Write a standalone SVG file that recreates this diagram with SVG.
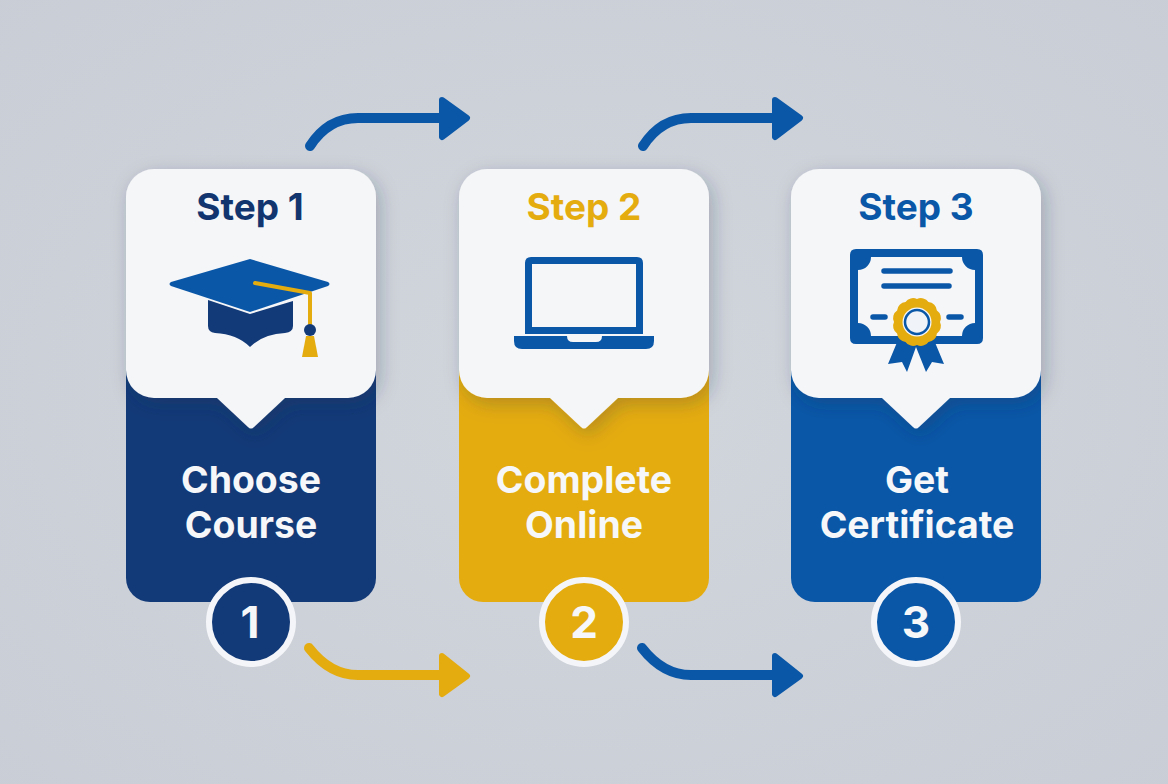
<svg xmlns="http://www.w3.org/2000/svg" xmlns:xlink="http://www.w3.org/1999/xlink" width="1168" height="784" viewBox="0 0 1168 784">
<style>
.st{font:700 37px Inter,"Liberation Sans",sans-serif;text-anchor:middle}
.lb{font:700 37.400px Inter,"Liberation Sans",sans-serif;text-anchor:middle;fill:#f6f7f9}
.nm{font:700 44px Inter,"Liberation Sans",sans-serif;text-anchor:middle;fill:#f6f7f9}
.wh{fill:#f5f6f8}
.navy{fill:#133a78}.gold{fill:#e5ac10}.blue{fill:#0a57a8}
.ring{stroke:#f3f5f8;stroke-width:6}
.shaft{fill:none;stroke-width:10;stroke-linecap:round;stroke-linejoin:round}
.hd{stroke-width:6;stroke-linejoin:round}
</style>
<defs>
<radialGradient id="bg" cx="50%" cy="50%" r="75%"><stop offset="0" stop-color="#d1d5dc"/><stop offset="1" stop-color="#c9cdd5"/></radialGradient>
<filter id="sh" x="-15%" y="-15%" width="130%" height="135%"><feDropShadow dx="4" dy="6" stdDeviation="9" flood-color="#1c2b44" flood-opacity=".25"/></filter>
<path id="card" d="M154,169H348A28,28 0 0 1 376,197V370A28,28 0 0 1 348,398H285L254,427Q251,430 248,427L217,398H154A28,28 0 0 1 126,370V197A28,28 0 0 1 154,169Z"/>
<path id="panel" d="M126,360H376V578A24,24 0 0 1 352,602H150A24,24 0 0 1 126,578Z"/>
</defs>
<rect width="1168" height="784" fill="url(#bg)"/>
<g id="node-1">
<use xlink:href="#panel" class="navy"/>
<use xlink:href="#card" class="wh" filter="url(#sh)"/>
<text class="st" x="250" y="220" fill="#12356f">Step 1</text>
<path d="M250,259L328,282Q331,284 328,286L250,312L171,286Q168,284 171,282Z" fill="#0a57a8"/>
<path d="M208,300L250,314L293,301V326Q293,332 285,333Q263,334 250,347Q237,334 215,333Q208,332 208,326Z" fill="#133a78"/>
<path d="M255,283L310,293V326" fill="none" stroke="#e5ac10" stroke-width="4" stroke-linecap="round" stroke-linejoin="round"/>
<circle cx="310" cy="330" r="6" fill="#133a78"/>
<path d="M306,336H314L318,357H302Z" fill="#e5ac10"/>
<text class="lb" x="251" y="493">Choose</text>
<text class="lb" x="251" y="538">Course</text>
<circle cx="251" cy="622" r="42" class="navy ring"/>
<text class="nm" x="250" y="638">1</text>
</g>
<g id="node-2">
<use xlink:href="#panel" x="333" class="gold"/>
<use xlink:href="#card" x="333" class="wh" filter="url(#sh)"/>
<text class="st" x="584" y="220" fill="#e5ac10">Step 2</text>
<path fill-rule="evenodd" d="M531,257H637Q643,257 643,263V334H525V263Q525,257 531,257ZM532,264V327H636V264Z" fill="#0a57a8"/>
<path d="M514,336H567Q567,342 573,342H596Q602,342 602,336H654V341Q654,349 646,349H522Q514,349 514,341Z" fill="#0a57a8"/>
<text class="lb" x="584" y="493">Complete</text>
<text class="lb" x="584" y="538">Online</text>
<circle cx="584" cy="622" r="42" class="gold ring"/>
<text class="nm" x="584" y="638">2</text>
</g>
<g id="node-3">
<use xlink:href="#panel" x="665" class="blue"/>
<use xlink:href="#card" x="665" class="wh" filter="url(#sh)"/>
<text class="st" x="916" y="220" fill="#0a57a8">Step 3</text>
<path fill-rule="evenodd" d="M856,249H977Q983,249 983,255V338Q983,344 977,344H856Q850,344 850,338V255Q850,249 856,249ZM871,257A13,13 0 0 1 858,270V323A13,13 0 0 1 871,336H962A13,13 0 0 1 975,323V270A13,13 0 0 1 962,257Z" fill="#0a57a8"/>
<g stroke="#0a57a8" stroke-width="5.500" stroke-linecap="round"><path d="M884,271H950M884,286H949M873,317H885M949,317H961"/></g>
<path d="M898,340L888,364L902,362L907,372L916,347L926,372L932,362L944,364L934,340Z" fill="#0a57a8"/>
<path d="M940,322A9,9 0 0 1 936.900,333.500A9,9 0 0 1 928.500,341.900A9,9 0 0 1 917,345A9,9 0 0 1 905.500,341.900A9,9 0 0 1 897.100,333.500A9,9 0 0 1 894,322A9,9 0 0 1 897.100,310.500A9,9 0 0 1 905.500,302.100A9,9 0 0 1 917,299A9,9 0 0 1 928.500,302.100A9,9 0 0 1 936.900,310.500A9,9 0 0 1 940,322Z" fill="#e5ac10"/>
<circle cx="917" cy="322" r="14.500" fill="#f5f6f8"/>
<circle cx="917" cy="322" r="12" fill="#f0f3f7" stroke="#0a57a8" stroke-width="2.500"/>
<text class="lb" x="917" y="493">Get</text>
<text class="lb" x="917" y="538">Certificate</text>
<circle cx="916" cy="622" r="42" class="blue ring"/>
<text class="nm" x="916" y="638">3</text>
</g>
<g id="connectors">
<path class="shaft" stroke="#0a57a8" d="M310,146Q328,118 358,118H445"/>
<path class="hd" fill="#0a57a8" stroke="#0a57a8" d="M442,100L467,118L442,137Z"/>
<path class="shaft" stroke="#0a57a8" d="M643,146Q661,118 691,118H778"/>
<path class="hd" fill="#0a57a8" stroke="#0a57a8" d="M775,100L800,118L775,137Z"/>
<path class="shaft" stroke="#e5ac10" d="M309,648Q330,675 358,675H445"/>
<path class="hd" fill="#e5ac10" stroke="#e5ac10" d="M442,656L467,676L442,694Z"/>
<path class="shaft" stroke="#0a57a8" d="M642,648Q663,675 691,675H778"/>
<path class="hd" fill="#0a57a8" stroke="#0a57a8" d="M775,656L800,676L775,694Z"/>
</g>
</svg>
